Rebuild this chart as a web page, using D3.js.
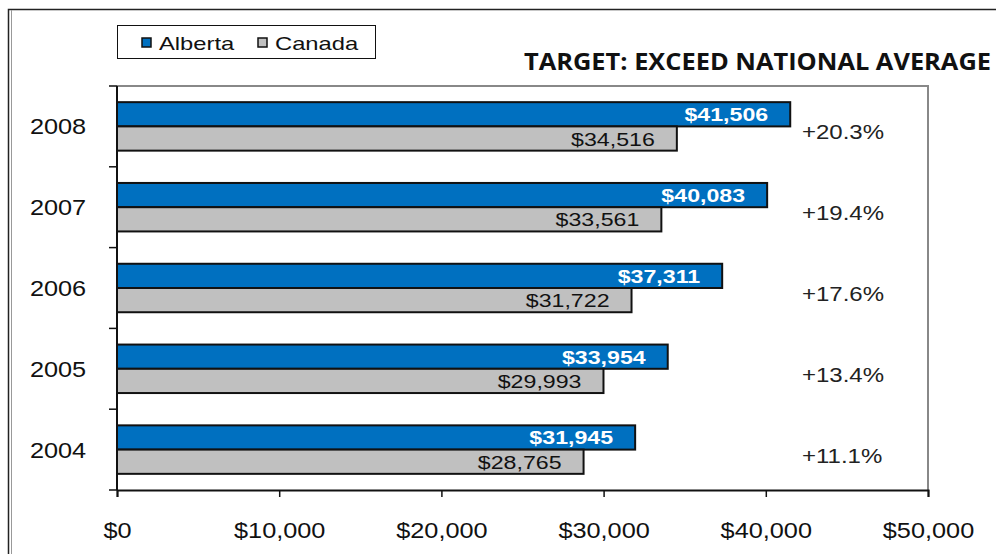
<!DOCTYPE html>
<html>
<head>
<meta charset="utf-8">
<script src="https://cdn.jsdelivr.net/npm/d3@7"></script>
<style>
  body { margin: 0; background: #fff; }
  text { font-family: "Liberation Sans", Arial, sans-serif; }
</style>
</head>
<body>
<svg id="mainsvg" width="996" height="554"></svg>
<script>
// data
const years = ['2008', '2007', '2006', '2005', '2004'];
const alberta = [41506, 40083, 37311, 33954, 31945];
const canada = [34516, 33561, 31722, 29993, 28765];
const premium = ['+20.3%', '+19.4%', '+17.6%', '+13.4%', '+11.1%'];
const xTicks = [0, 10000, 20000, 30000, 40000, 50000];
const seriesNames = ['Alberta', 'Canada'];
const seriesColors = ['#0070c0', '#c0c0c0'];

const svg = d3.select('#mainsvg');
const plot = { left: 117, right: 928, top: 86, bottom: 490 };

const xScale = d3.scaleLinear().domain([0, 50000]).range([plot.left, plot.right]);
const yScale = d3.scaleBand().domain(years).range([plot.top, plot.bottom])
    .paddingInner(0.4).paddingOuter(0.2);
const sub = d3.scaleBand().domain(seriesNames).range([0, yScale.bandwidth()]);
const fmt = d3.format('$,');

// text squeezed wide like the source picture
const wideText = (parent, x, y, str, sx) => parent.append('text')
    .attr('transform', `translate(${x},${y}) scale(${sx},1)`)
    .text(str);

// outer frame
svg.append('rect').attr('x', 8.5).attr('y', 9.5).attr('width', 1000).attr('height', 600)
    .attr('fill', 'none').attr('stroke', '#222').attr('stroke-width', 1.5);
svg.append('line').attr('x1', 11.5).attr('x2', 11.5).attr('y1', 10).attr('y2', 554)
    .attr('stroke', '#999').attr('stroke-width', 1);

// plot area border (grey top / right)
svg.append('path')
    .attr('d', `M${plot.left},${plot.top}H${plot.right}V${plot.bottom}`)
    .attr('fill', 'none').attr('stroke', '#888').attr('stroke-width', 2);

// bars
const g = svg.append('g');
years.forEach((yr, i) => {
    const vals = [alberta[i], canada[i]];
    vals.forEach((v, j) => {
        g.append('rect')
            .attr('x', xScale(0))
            .attr('y', yScale(yr) + sub(seriesNames[j]))
            .attr('width', xScale(v) - xScale(0))
            .attr('height', sub.bandwidth())
            .attr('fill', seriesColors[j])
            .attr('stroke', '#111').attr('stroke-width', 2);
    });
    // value labels inside bar end
    const ya = yScale(yr) + sub('Alberta') + sub.bandwidth() / 2 + 7;
    wideText(g, xScale(alberta[i]) - 22, ya, fmt(alberta[i]), 1.22)
        .attr('text-anchor', 'end').attr('fill', '#fff')
        .attr('font-weight', 'bold').attr('font-size', '19px');
    const yc = yScale(yr) + sub('Canada') + sub.bandwidth() / 2 + 7;
    wideText(g, xScale(canada[i]) - 22, yc, fmt(canada[i]), 1.22)
        .attr('text-anchor', 'end').attr('fill', '#111')
        .attr('font-size', '19px');
    // premium over national average
    wideText(g, 802, yScale(yr) + yScale.bandwidth() / 2 + 13, premium[i], 1.2)
        .attr('fill', '#222').attr('font-size', '20px');
});

// y axis (category) drawn by hand: ticks at band edges
const step = yScale.step();
const edges = years.map(y => yScale(y) - step * yScale.paddingInner() / 2).concat([plot.bottom]);
svg.append('line').attr('x1', plot.left).attr('x2', plot.left)
    .attr('y1', plot.top).attr('y2', plot.bottom)
    .attr('stroke', '#111').attr('stroke-width', 2);
svg.selectAll('.ytick').data(edges).enter().append('line')
    .attr('class', 'ytick')
    .attr('x1', plot.left - 8).attr('x2', plot.left)
    .attr('y1', d => d).attr('y2', d => d)
    .attr('stroke', '#111').attr('stroke-width', 1.5);
years.forEach(yr => {
    wideText(svg, 58, yScale(yr) + yScale.bandwidth() / 2 + 8, yr, 1.15)
        .attr('text-anchor', 'middle').attr('font-size', '22px').attr('fill', '#111');
});

// x axis
const xAxis = d3.axisBottom(xScale).tickValues(xTicks).tickFormat(fmt)
    .tickSize(7).tickPadding(0);
const xg = svg.append('g').attr('transform', `translate(0,${plot.bottom})`).call(xAxis);
xg.select('.domain').attr('stroke', '#111').attr('stroke-width', 2);
xg.selectAll('.tick line').attr('stroke', '#111').attr('stroke-width', 1.5);
xg.selectAll('.tick text')
    .attr('y', 48).attr('dy', 0)
    .attr('transform', 'scale(1.15,1)')
    .attr('font-size', '22px')
    .style('font-family', '"Liberation Sans", Arial, sans-serif')
    .attr('fill', '#111');

// legend
const lg = svg.append('g');
lg.append('rect').attr('x', 117.5).attr('y', 25.5).attr('width', 258).attr('height', 33)
    .attr('fill', '#fff').attr('stroke', '#111').attr('stroke-width', 1);
const legX = [142, 258];
seriesNames.forEach((name, j) => {
    lg.append('rect').attr('x', legX[j]).attr('y', 38).attr('width', 9).attr('height', 9)
        .attr('fill', seriesColors[j]).attr('stroke', '#111').attr('stroke-width', 1.5);
    wideText(lg, legX[j] + 17, 50, name, 1.25)
        .attr('font-size', '19px').attr('fill', '#111');
});

// title (Calibri-like face)
svg.append('text')
    .attr('x', 524).attr('y', 70)
    .style('font-family', '"Open Sans", "Noto Sans", sans-serif')
    .attr('font-weight', 'bold').attr('font-size', '23px')
    .attr('textLength', 467).attr('lengthAdjust', 'spacingAndGlyphs')
    .attr('fill', '#111')
    .text('TARGET: EXCEED NATIONAL AVERAGE');
</script>
</body>
</html>
